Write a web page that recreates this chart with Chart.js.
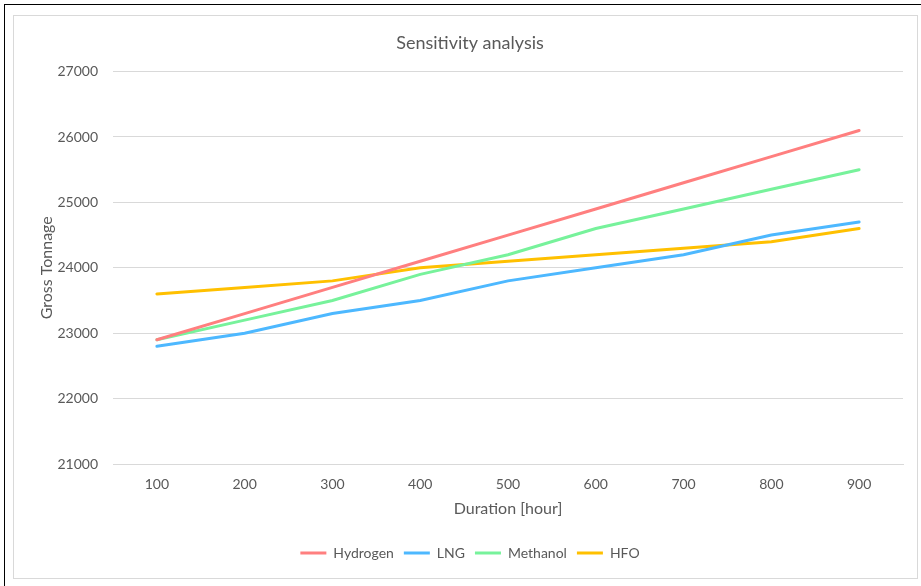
<!DOCTYPE html>
<html>
<head>
<meta charset="utf-8">
<script src="https://cdn.jsdelivr.net/npm/chart.js@4"></script>
<style>
  html, body { margin: 0; padding: 0; background: #fff; width: 921px; height: 586px; overflow: hidden; }
  #outer { position: absolute; left: 4px; top: 4px; width: 1000px; height: 700px; border: 1px solid #000; }
  #inner { position: absolute; left: 13px; top: 15px; width: 903px; height: 562px; border: 1px solid #d9d9d9; background: #fff; }
  #wrap { position: absolute; left: 14px; top: 16px; width: 902px; height: 561px; }
</style>
</head>
<body>
<div id="outer"></div>
<div id="inner"></div>
<div id="wrap"><canvas id="c" width="902" height="561"></canvas></div>
<script>
const durations = ['100','200','300','400','500','600','700','800','900'];
const hydrogen = [22900, 23300, 23700, 24100, 24500, 24900, 25300, 25700, 26100];
const lng      = [22800, 23000, 23300, 23500, 23800, 24000, 24200, 24500, 24700];
const methanol = [22900, 23200, 23500, 23900, 24200, 24600, 24900, 25200, 25500];
const hfo      = [23600, 23700, 23800, 24000, 24100, 24200, 24300, 24400, 24600];
const seriesNames = ['Hydrogen', 'LNG', 'Methanol', 'HFO'];

const colors = ['#FF7F7F', '#4DB8FF', '#77F29B', '#FFC000'];
const textColor = '#595959';
const fontFam = 'Lato, "Open Sans", sans-serif';

const mk = (label, data, color) => ({
  label, data, borderColor: color, backgroundColor: color,
  borderWidth: 3, pointRadius: 0, pointHoverRadius: 0, tension: 0, fill: false,
  borderCapStyle: 'round'
});

new Chart(document.getElementById('c'), {
  type: 'line',
  data: {
    labels: durations,
    datasets: [
      mk(seriesNames[0], hydrogen, colors[0]),
      mk(seriesNames[1], lng, colors[1]),
      mk(seriesNames[2], methanol, colors[2]),
      mk(seriesNames[3], hfo, colors[3])
    ]
  },
  options: {
    responsive: false,
    animation: false,
    layout: { padding: { left: 23, right: 13, top: 0, bottom: 7 } },
    plugins: {
      title: {
        display: true, text: 'Sensitivity analysis', color: textColor,
        font: { family: fontFam, size: 18, weight: 'normal' },
        padding: { top: 16, bottom: 18 }
      },
      legend: {
        position: 'bottom',
        labels: {
          color: textColor, font: { family: fontFam, size: 14 },
          usePointStyle: true, pointStyle: 'line', pointStyleWidth: 26, boxWidth: 26, padding: 10
        }
      },
      tooltip: { enabled: false }
    },
    scales: {
      x: {
        offset: true,
        grid: { display: false, drawTicks: false },
        border: { display: true, color: '#d9d9d9', width: 1 },
        ticks: { color: textColor, font: { family: fontFam, size: 14 }, padding: 12 },
        title: { display: true, text: 'Duration [hour]', color: textColor,
                 font: { family: fontFam, size: 16 }, padding: { top: 6, bottom: 18 } },
        afterFit: (s) => { s.height = 72; }
      },
      y: {
        min: 21000, max: 27000,
        grid: { color: '#d9d9d9', drawTicks: false },
        border: { display: false },
        ticks: { stepSize: 1000, color: textColor, font: { family: fontFam, size: 14 }, padding: 15,
                 callback: (v) => String(v) },
        title: { display: true, text: 'Gross Tonnage', color: textColor,
                 font: { family: fontFam, size: 16 }, padding: { top: 0, bottom: 4 } },
        afterFit: (s) => { s.width = 76; }
      }
    }
  }
});
</script>
</body>
</html>
